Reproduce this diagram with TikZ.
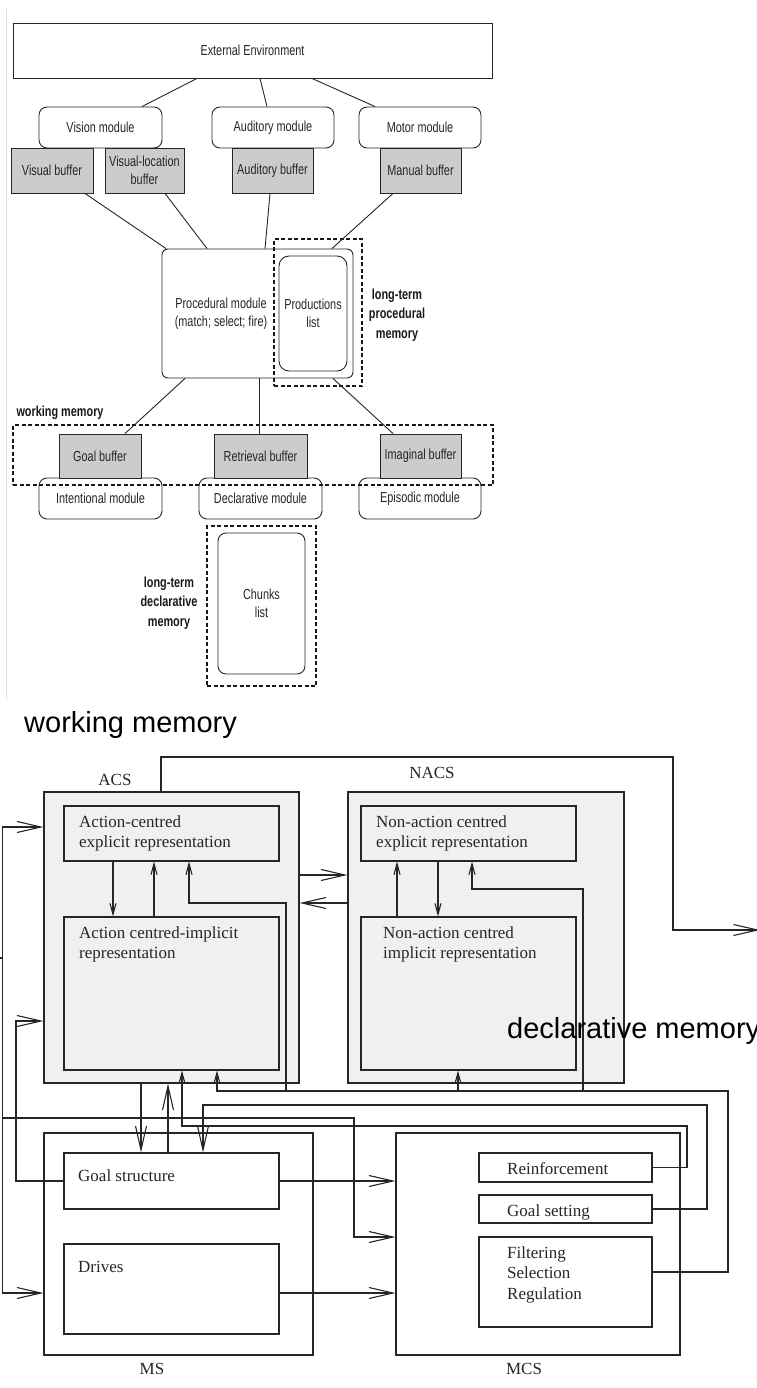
\documentclass[tikz,border=0pt]{standalone}
\usepackage{fontspec}
\setmainfont{Liberation Serif}
\newfontfamily\narrowsf[FakeStretch=0.75]{Liberation Sans}
\newfontfamily\plainsf{Liberation Sans}
\usetikzlibrary{arrows.meta}

\newlength{\du}
\setlength{\du}{1pt}

\definecolor{linecol}{rgb}{0.150000, 0.150000, 0.150000}
\definecolor{buffill}{rgb}{0.800000, 0.800000, 0.800000}
\definecolor{sysfill}{rgb}{0.940000, 0.940000, 0.940000}

\tikzset{
  envbox/.style={draw=linecol, line width=0.9\du, fill=white, inner sep=0pt, align=center,
    text=black!85, font=\narrowsf\fontsize{14.5}{18}\selectfont},
  modbox/.style={envbox, rounded corners=8\du},
  bufbox/.style={envbox, fill=buffill},
  memframe/.style={draw=black!90, line width=1.4\du, dash pattern=on 4\du off 2.5\du, inner sep=0pt},
  memlabel/.style={font=\narrowsf\bfseries\fontsize{14.5}{19.5}\selectfont, align=center, text=black!90},
  actrtext/.style={font=\narrowsf\fontsize{14.5}{18}\selectfont, align=center, text=black!85},
  actrline/.style={draw=linecol, line width=0.9\du},
  sysbox/.style={draw=linecol, line width=1.1\du, fill=sysfill, inner sep=0pt},
  msbox/.style={sysbox, fill=white},
  clartext/.style={font=\fontsize{17}{20.5}\selectfont, align=left, inner sep=0pt, text=black!85},
  bigtext/.style={font=\plainsf\fontsize{29}{34}\selectfont, inner sep=0pt},
  clarline/.style={draw=linecol, line width=1.1\du},
  bigarr/.style={clarline, -{Straight Barb[length=24pt,width=11pt]}},
  smallarr/.style={clarline, -{Straight Barb[length=11pt,width=6pt]}}
}

\begin{document}
\begin{tikzpicture}[x=1\du, y=-1\du]
\useasboundingbox (0,0) rectangle (756,1388);
\fill[white] (0,0) rectangle (756,1388);
\draw[gray!25, line width=0.8\du] (6.5,9) -- (6.5,699);

% ACT-R part
\node[envbox, minimum width=479\du, minimum height=55\du] (env) at (252.5,50.5) {External Environment};
\node[modbox, minimum width=123\du, minimum height=41\du] (vision) at (100.5,127.5) {Vision module};
\node[modbox, minimum width=122\du, minimum height=41\du] (auditory) at (273,127.5) {Auditory module};
\node[modbox, minimum width=122\du, minimum height=41\du] (motor) at (420,127.5) {Motor module};
\node[bufbox, minimum width=82\du, minimum height=45\du] (visbuf) at (52,170.5) {Visual buffer};
\node[bufbox, minimum width=79\du, minimum height=45\du] (vislocbuf) at (144.5,170.5) {Visual-location\\buffer};
\node[bufbox, minimum width=81\du, minimum height=45\du] (audbuf) at (272.5,170.5) {Auditory buffer};
\node[bufbox, minimum width=81\du, minimum height=45\du] (manbuf) at (420.5,170.5) {Manual buffer};

\node[modbox, rounded corners=6\du, minimum width=191\du, minimum height=129\du] (proc) at (257.5,313.5) {};
\node[actrtext] (proctxt) at (221,314) {Procedural module\\(match; select; fire)};
\node[modbox, rounded corners=10\du, minimum width=68\du, minimum height=115\du] (prodlist) at (313,313.5) {Productions\\list};
\node[memframe, minimum width=88\du, minimum height=147\du] (procmem) at (318,312.5) {};
\node[memlabel] (procmemlbl) at (397,315) {long-term\\procedural\\memory};

\node[modbox, minimum width=123\du, minimum height=41\du] (intmod) at (100.5,498.5) {Intentional module};
\node[modbox, minimum width=123\du, minimum height=41\du] (decmod) at (260.5,498.5) {Declarative module};
\node[modbox, minimum width=122\du, minimum height=41\du] (epimod) at (420,498.5) {Episodic module};
\node[bufbox, minimum width=82\du, minimum height=44\du] (goalbuf) at (100,456) {Goal buffer};
\node[bufbox, minimum width=93\du, minimum height=44\du] (retbuf) at (260.5,456) {Retrieval buffer};
\node[bufbox, minimum width=81\du, minimum height=44\du] (imagbuf) at (420.5,456) {Imaginal buffer};
\node[memframe, minimum width=480\du, minimum height=60\du] (wmframe) at (253,455) {};
\node[memlabel, anchor=west] (wmlbl) at (13,413) {working memory};

\node[memframe, minimum width=109\du, minimum height=160\du] (chunkmem) at (261.5,606) {};
\node[modbox, minimum width=87\du, minimum height=141\du] (chunklist) at (261.5,603.5) {Chunks\\list};
\node[memlabel] (decmemlbl) at (169,603) {long-term\\declarative\\memory};

\draw[actrline] ([xshift=-55.5\du]env.south) -- ([xshift=41.5\du]vision.north);
\draw[actrline] ([xshift=7.5\du]env.south) -- ([xshift=-6\du]auditory.north);
\draw[actrline] ([xshift=59.5\du]env.south) -- ([xshift=-45\du]motor.north);
\draw[actrline] ([xshift=33\du]visbuf.south) -- ([xshift=-91.5\du]proc.north);
\draw[actrline] ([xshift=20.5\du]vislocbuf.south) -- ([xshift=-50.5\du]proc.north);
\draw[actrline] ([xshift=-2.5\du]audbuf.south) -- ([xshift=7.5\du]proc.north);
\draw[actrline] ([xshift=-27.5\du]manbuf.south) -- ([xshift=74.5\du]proc.north);
\draw[actrline] ([xshift=-72.5\du]proc.south) -- ([xshift=25\du]goalbuf.north);
\draw[actrline] ([xshift=1.5\du]proc.south) -- ([xshift=-1.5\du]retbuf.north);
\draw[actrline] ([xshift=75.5\du]proc.south) -- ([xshift=-27.5\du]imagbuf.north);

% CLARION part
\node[bigtext, anchor=base west] (wmtitle) at (24,732) {working memory};
\node[clartext, anchor=base] (acslbl) at (115,785) {ACS};
\node[clartext, anchor=base] (nacslbl) at (432,778) {NACS};
\node[clartext, anchor=base] (mslbl) at (152,1374) {MS};
\node[clartext, anchor=base] (mcslbl) at (524,1374) {MCS};

\node[sysbox, minimum width=255\du, minimum height=291\du] (acs) at (171.5,937.5) {};
\node[sysbox, minimum width=215\du, minimum height=55\du] (acsexp) at (171.5,833.5) {};
\node[sysbox, minimum width=215\du, minimum height=153\du] (acsimp) at (171.5,993.5) {};
\node[sysbox, minimum width=276\du, minimum height=291\du] (nacs) at (486,937.5) {};
\node[sysbox, minimum width=215\du, minimum height=55\du] (nacsexp) at (468.5,833.5) {};
\node[sysbox, minimum width=215\du, minimum height=153\du] (nacsimp) at (468.5,993.5) {};
\node[msbox, minimum width=269\du, minimum height=222\du] (ms) at (178.5,1244) {};
\node[msbox, minimum width=215\du, minimum height=56\du] (goalstr) at (171.5,1181) {};
\node[msbox, minimum width=215\du, minimum height=90\du] (drives) at (171.5,1289) {};
\node[msbox, minimum width=284\du, minimum height=222\du] (mcs) at (538,1244) {};
\node[msbox, minimum width=173\du, minimum height=29\du] (reinf) at (565.5,1167.5) {};
\node[msbox, minimum width=173\du, minimum height=28\du] (goalset) at (565.5,1209) {};
\node[msbox, minimum width=173\du, minimum height=90\du] (filter) at (565.5,1282) {};

% base anchor sits on the last line
\node[clartext, anchor=base west] (acsexptxt) at (79,847.5) {Action-centred\\explicit representation};
\node[clartext, anchor=base west] (acsimptxt) at (79,958.5) {Action centred-implicit\\representation};
\node[clartext, anchor=base west] (nacsexptxt) at (376,847.5) {Non-action centred\\explicit representation};
\node[clartext, anchor=base west] (nacsimptxt) at (383,958.5) {Non-action centred\\implicit representation};
\node[clartext, anchor=base west] (goalstrtxt) at (78,1181) {Goal structure};
\node[clartext, anchor=base west] (drivestxt) at (78,1272) {Drives};
\node[clartext, anchor=base west] (reinftxt) at (507,1174) {Reinforcement};
\node[clartext, anchor=base west] (goalsettxt) at (507,1216) {Goal setting};
\node[clartext, anchor=base west] (filtertxt) at (507,1299) {Filtering\\Selection\\Regulation};

\coordinate (sensin) at (0,958);
\coordinate (actout) at (760,930);

% inputs from the left
\draw[clarline] (sensin) -- (2.5,958);
\draw[bigarr] (2.5,958) |- (acs.west |- 0,827);
\draw[bigarr] (2.5,958) |- (ms.west |- 0,1293);
\draw[bigarr] (2.5,1118) -| (354,1237) -- (mcs.west |- 354,1237);
\draw[bigarr] (goalstr.west) -| (16,1021) -- (acs.west |- 16,1021);

% ACS output
\draw[bigarr] (acs.north -| 161,0) |- (673,757) |- (actout);

% ACS <-> NACS
\draw[bigarr] (acs.east |- 0,875) -- (nacs.west |- 0,875);
\draw[bigarr] (nacs.west |- 0,903) -- (acs.east |- 0,903);
\draw[smallarr] (acsexp.south -| 113,0) -- (acsimp.north -| 113,0);
\draw[smallarr] (acsimp.north -| 154,0) -- (acsexp.south -| 154,0);
\draw[smallarr] (nacsimp.north -| 397,0) -- (nacsexp.south -| 397,0);
\draw[smallarr] (nacsexp.south -| 438,0) -- (nacsimp.north -| 438,0);

% ACS <-> MS
\draw[bigarr] (acs.south -| 141,0) -- (goalstr.north -| 141,0);
\draw[bigarr] (goalstr.north -| 168,0) -- (acs.south -| 168,0);
\draw[bigarr] (goalstr.east) -- (mcs.west |- goalstr.east);
\draw[bigarr] ([yshift=-4\du]drives.east) -- (mcs.west |- 0,1293);

% MCS feedback
\draw[smallarr] (reinf.east) -| (687,1126) -| (acsimp.south -| 182,0);
\draw[bigarr] (goalset.east) -| (707,1105) -| (goalstr.north -| 203,0);
\draw[smallarr] ([yshift=10\du]filter.east) -| (728,1091) -| (acsimp.south -| 217,0);
\draw[smallarr] (458,1091) -- (nacsimp.south -| 458,0);
\draw[smallarr] (583,1091) |- (472,889) -- (nacsexp.south -| 472,0);
\draw[smallarr] (286,1091) |- (189,903) -- (acsexp.south -| 189,0);

\node[bigtext, anchor=base west] (dmtitle) at (507,1038) {declarative memory};
\end{tikzpicture}
\end{document}
